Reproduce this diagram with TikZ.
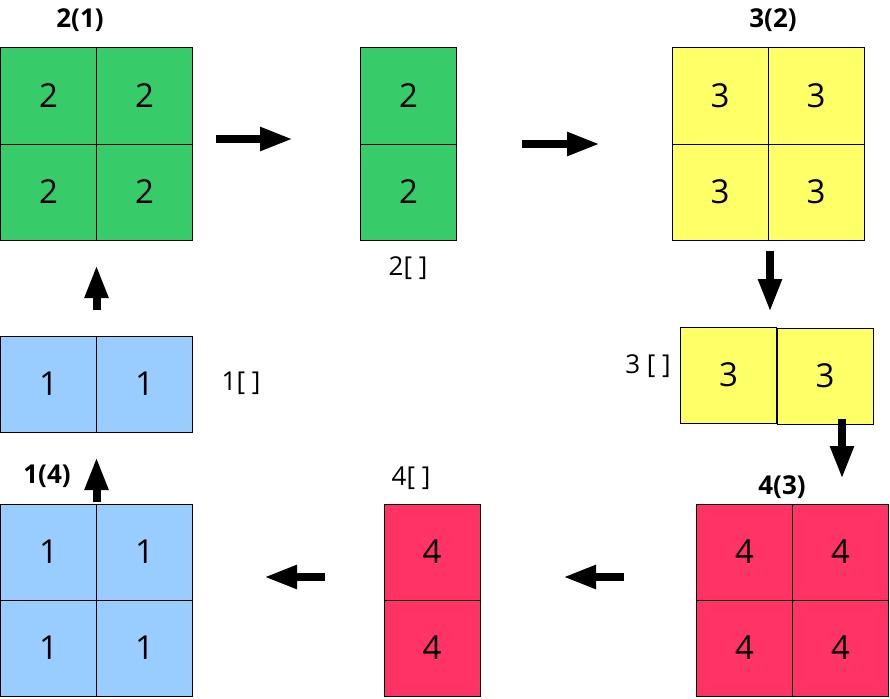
\documentclass[tikz,border=0pt]{standalone}
\usepackage{fontspec}
\setmainfont{Open Sans}
\usetikzlibrary{arrows.meta}
\definecolor{cgreen}{HTML}{37CB6A}
\definecolor{cyellow}{HTML}{FFFF66}
\definecolor{cblue}{HTML}{99CCFF}
\definecolor{cred}{HTML}{FF3366}
\tikzset{
  cell/.style={draw=black, line width=1pt, minimum width=96pt, minimum height=96pt, inner sep=0pt, font=\fontsize{33}{33}\selectfont},
  lab/.style={inner sep=0pt, font=\fontsize{26}{26}\selectfont},
  blab/.style={inner sep=0pt, font=\fontsize{26}{26}\selectfont\bfseries},
  flow/.style={line width=8pt, -{Triangle[length=33pt,width=22pt]}},
}
\begin{document}
\begin{tikzpicture}[x=1pt,y=-1pt]
\useasboundingbox (0,0) rectangle (890,698);
% 2(1)
\node[cell,fill=cgreen] (g11) at (48.5,96) {2};
\node[cell,fill=cgreen] (g12) at (144.5,96) {2};
\node[cell,fill=cgreen] (g21) at (48.5,192) {2};
\node[cell,fill=cgreen] (g22) at (144.5,192) {2};
\node[blab] (l21) at (80,20) {2(1)};
% 2[]
\node[cell,fill=cgreen] (m1) at (408.5,96) {2};
\node[cell,fill=cgreen] (m2) at (408.5,192) {2};
\node[lab] (l2b) at (408,268) {2[ ]};
% 3(2)
\node[cell,fill=cyellow] (y11) at (720,96) {3};
\node[cell,fill=cyellow] (y12) at (816,96) {3};
\node[cell,fill=cyellow] (y21) at (720,192) {3};
\node[cell,fill=cyellow] (y22) at (816,192) {3};
\node[blab] (l32) at (773,20) {3(2)};
% 3[]
\node[cell,fill=cyellow] (ya) at (728.5,375) {3};
\node[cell,fill=cyellow] (yb) at (825,376) {3};
\node[lab] (l3b) at (648,366) {3 [ ]};
% 4(3)
\node[cell,fill=cred] (r11) at (744.5,552) {4};
\node[cell,fill=cred] (r12) at (840.5,552) {4};
\node[cell,fill=cred] (r21) at (744.5,648) {4};
\node[cell,fill=cred] (r22) at (840.5,648) {4};
\node[blab] (l43) at (782,487) {4(3)};
% 4[]
\node[cell,fill=cred] (ra) at (432,552) {4};
\node[cell,fill=cred] (rb) at (432,648) {4};
\node[lab] (l4b) at (411,478) {4[ ]};
% 1(4)
\node[cell,fill=cblue] (b11) at (48.5,552) {1};
\node[cell,fill=cblue] (b12) at (144.5,552) {1};
\node[cell,fill=cblue] (b21) at (48.5,648) {1};
\node[cell,fill=cblue] (b22) at (144.5,648) {1};
\node[blab] (l14) at (47,476) {1(4)};
% 1[]
\node[cell,fill=cblue] (ba) at (48.5,384) {1};
\node[cell,fill=cblue] (bb) at (144.5,384) {1};
\node[lab] (l1b) at (241,383) {1[ ]};
% arrow endpoints
\coordinate (a1s) at (216,139); \coordinate (a1e) at (293,139);
\coordinate (a2s) at (522,144); \coordinate (a2e) at (600,144);
\coordinate (a3s) at (770,251); \coordinate (a3e) at (770,312);
\coordinate (a4s) at (842,419); \coordinate (a4e) at (842,479);
\coordinate (a5s) at (624,577); \coordinate (a5e) at (563,577);
\coordinate (a6s) at (325,577); \coordinate (a6e) at (264,577);
\coordinate (a7s) at (96.5,502); \coordinate (a7e) at (96.5,457);
\coordinate (a8s) at (96.5,310); \coordinate (a8e) at (96.5,265);
\draw[flow] (a1s) -- (a1e);
\draw[flow] (a2s) -- (a2e);
\draw[flow] (a3s) -- (a3e);
\draw[flow] (a4s) -- (a4e);
\draw[flow] (a5s) -- (a5e);
\draw[flow] (a6s) -- (a6e);
\draw[flow] (a7s) -- (a7e);
\draw[flow] (a8s) -- (a8e);
\end{tikzpicture}
\end{document}
